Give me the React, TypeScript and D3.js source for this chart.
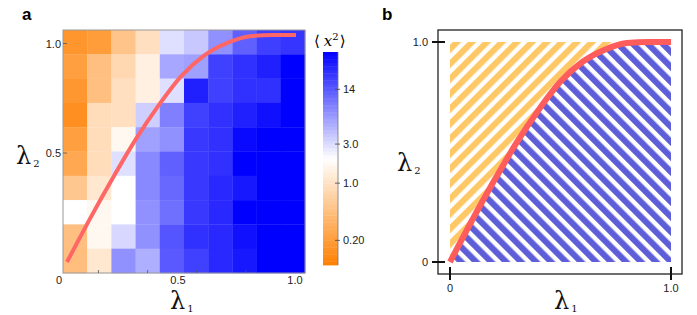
import * as d3 from "d3";
import React from "react";

// panel a: <x^2> for each cell, rows from lambda2 = 1 (top) down to lambda2 = 0
const x2Grid = [
  [0.17, 0.2, 0.5, 0.95, 2.9, 3.8, 7.4, 13, 19, 21.5],
  [0.21, 0.45, 0.79, 1.4, 5.6, 6.1, 18.8, 22.8, 27.5, 40],
  [0.175, 0.45, 0.95, 1.4, 2.9, 27.5, 18.8, 22.8, 22.8, 40],
  [0.146, 0.9, 0.95, 3.5, 8.9, 18.8, 22.8, 27.5, 33, 40],
  [0.21, 0.9, 1.7, 6.1, 7.4, 20.7, 22.8, 36, 40, 40],
  [0.26, 0.9, 2.9, 8.1, 13, 20.7, 22.8, 40, 40, 40],
  [0.54, 1.15, 2.0, 8.1, 11.8, 20.7, 25, 30, 40, 40],
  [2.0, 1.7, 2.0, 7.4, 10.7, 20.7, 25, 40, 40, 40],
  [0.45, 1.7, 3.2, 7.4, 14.7, 22.8, 25, 33, 40, 40],
  [0.44, 1.15, 7.4, 5.1, 14, 18.8, 25, 30, 40, 40],
];
const aTicksX = [0, 0.5, 1.0];
const aTicksY = [0.5, 1.0];
const aMinorX = [0.16, 0.37, 0.58, 0.79];
const colorTicks = [0.2, 1, 3, 14];
const colorTickLabels = ["0.20", "1.0", "3.0", "14"];

// boundary curve lambda2(lambda1)
const curveL1 = [0, 0.1, 0.2, 0.3, 0.4, 0.5, 0.6, 0.7, 0.8, 0.9, 1.0];
const curveL2 = [0, 0.19, 0.37, 0.54, 0.69, 0.82, 0.91, 0.965, 0.995, 1.0, 1.0];
const bTicks = [0, 1];
const bTickLabels = ["0", "1.0"];

const sans = "'Liberation Sans', Arial, sans-serif";
const serif = "'DejaVu Serif', serif";

function Lambda({ x, y, sub }: { x: number; y: number; sub: string }) {
  return (
    <text x={x} y={y} fontFamily={serif} fontSize={24} fill="#111">
      λ
      <tspan dx={2} dy={3} fontSize={10}>{sub}</tspan>
    </text>
  );
}

export default function App() {
  const pts: [number, number][] = curveL1.map((v, i) => [v, curveL2[i]]);

  // panel a
  const cellX = d3.scaleBand<number>().domain(d3.range(10)).range([63, 305]);
  const cellY = d3.scaleBand<number>().domain(d3.range(10)).range([30, 273]);
  const axX = d3.scaleLinear().domain([0, 1]).range([61, 295]);
  const axY = d3.scaleLinear().domain([0, 1]).range([262.5, 43.5]);
  const cvX = d3.scaleLinear().domain([0, 1]).range([67, 296]);
  const cvY = d3.scaleLinear().domain([0, 1]).range([262, 35]);
  const color = d3
    .scaleLog<string>()
    .domain([0.1, 2, 40])
    .range(["#FF7F00", "#FFFFFF", "#0000FF"]);
  const barY = d3.scaleLog().domain([0.1, 40]).range([265, 52]);
  const nSteps = 60;
  const lmin = Math.log10(0.1), lmax = Math.log10(40);
  const steps = d3.range(nSteps).map((i) => ({
    lo: Math.pow(10, lmin + (i * (lmax - lmin)) / nSteps),
    hi: Math.pow(10, lmin + ((i + 1) * (lmax - lmin)) / nSteps),
  }));

  const lineA = d3
    .line<[number, number]>()
    .x((d) => cvX(d[0]))
    .y((d) => cvY(d[1]))
    .curve(d3.curveMonotoneX);

  // panel b
  const bx = d3.scaleLinear().domain([0, 1]).range([450, 671]);
  const by = d3.scaleLinear().domain([0, 1]).range([262, 42]);
  const upper = d3
    .area<[number, number]>()
    .x((d) => bx(d[0]))
    .y0(by(1))
    .y1((d) => by(d[1]))
    .curve(d3.curveMonotoneX);
  const lower = d3
    .area<[number, number]>()
    .x((d) => bx(d[0]))
    .y0(by(0))
    .y1((d) => by(d[1]))
    .curve(d3.curveMonotoneX);
  const lineB = d3
    .line<[number, number]>()
    .x((d) => bx(d[0]))
    .y((d) => by(d[1]))
    .curve(d3.curveMonotoneX);

  return (
    <div style={{ position: "absolute", left: 0, top: 0 }}>
      <svg width={697} height={315} style={{ display: "block", background: "#fff" }}>
        <defs>
          <pattern id="hatchY" patternUnits="userSpaceOnUse" width={10.6} height={10.6} patternTransform="rotate(45)">
            <rect width={6.2} height={10.6} fill="#FFC866" />
          </pattern>
          <pattern id="hatchB" patternUnits="userSpaceOnUse" width={10.6} height={10.6} patternTransform="rotate(-45)">
            <rect width={6.2} height={10.6} fill="#5E5ED8" />
          </pattern>
        </defs>

        {/* panel a */}
        <text x={22} y={20} fontFamily={sans} fontWeight="bold" fontSize={17}>a</text>
        <g>
          {x2Grid.map((row, r) =>
            row.map((v, c) => (
              <rect
                key={`${r}-${c}`}
                x={cellX(c)}
                y={cellY(r)}
                width={cellX.bandwidth() + 0.3}
                height={cellY.bandwidth() + 0.3}
                fill={color(v)}
              />
            ))
          )}
          <rect x={63} y={30} width={242} height={243} fill="none" stroke="#999" strokeWidth={1} />
        </g>
        {aMinorX.map((t) => (
          <line key={t} x1={axX(t)} x2={axX(t)} y1={273} y2={270} stroke="#555" strokeWidth={0.8} />
        ))}
        {aTicksX.map((t) => (
          <text key={t} x={axX(t) - (t === 0 ? 2 : 0)} y={284} textAnchor="middle" fontFamily={sans} fontSize={11} fill="#222">
            {t === 0 ? "0" : t.toFixed(1)}
          </text>
        ))}
        {aTicksY.map((t) => (
          <g key={t}>
            <line x1={63} x2={67} y1={axY(t)} y2={axY(t)} stroke="#555" strokeWidth={0.8} />
            <text x={61} y={axY(t) + 4} textAnchor="end" fontFamily={sans} fontSize={11} fill="#222">
              {t.toFixed(1)}
            </text>
          </g>
        ))}
        <path d={lineA(pts) || ""} fill="none" stroke="#FF6666" strokeWidth={4} />
        <Lambda x={170} y={309} sub="1" />
        <Lambda x={16} y={164} sub="2" />

        {/* colour bar */}
        {steps.map((s, i) => (
          <rect
            key={i}
            x={323}
            y={barY(s.hi)}
            width={15}
            height={barY(s.lo) - barY(s.hi) + 0.4}
            fill={color(Math.sqrt(s.lo * s.hi))}
          />
        ))}
        <line x1={338} x2={338} y1={52} y2={265} stroke="#777" strokeWidth={0.8} />
        {colorTicks.map((t, i) => (
          <g key={t}>
            <line x1={335} x2={340} y1={barY(t)} y2={barY(t)} stroke="#444" strokeWidth={0.8} />
            <text x={343} y={barY(t) + 4} fontFamily={sans} fontSize={11} fill="#222">
              {colorTickLabels[i]}
            </text>
          </g>
        ))}
        <text x={314} y={46} fontFamily={serif} fontSize={15}>
          ⟨<tspan dx={4} fontStyle="italic">x</tspan>
          <tspan dy={-6} fontSize={10}>2</tspan>
          <tspan dy={6} dx={1}>⟩</tspan>
        </text>

        {/* panel b */}
        <text x={382} y={20} fontFamily={sans} fontWeight="bold" fontSize={17}>b</text>
        <path d={upper(pts) || ""} fill="url(#hatchY)" />
        <path d={lower(pts) || ""} fill="url(#hatchB)" />
        <path d={lineB(pts) || ""} fill="none" stroke="#FF5C5C" strokeWidth={6} />
        <rect x={438} y={30} width={244} height={244} fill="none" stroke="#222" strokeWidth={1.3} />
        {bTicks.map((t, i) => (
          <g key={t}>
            <line x1={432} x2={445} y1={by(t)} y2={by(t)} stroke="#111" strokeWidth={2} />
            <text x={428} y={by(t) + 4} textAnchor="end" fontFamily={sans} fontSize={11} fill="#222">
              {bTickLabels[i]}
            </text>
            <line x1={bx(t)} x2={bx(t)} y1={267} y2={280} stroke="#111" strokeWidth={2} />
            <text x={bx(t)} y={292} textAnchor="middle" fontFamily={sans} fontSize={11} fill="#222">
              {bTickLabels[i]}
            </text>
          </g>
        ))}
        <Lambda x={554} y={309} sub="1" />
        <Lambda x={397} y={171} sub="2" />
      </svg>
    </div>
  );
}
